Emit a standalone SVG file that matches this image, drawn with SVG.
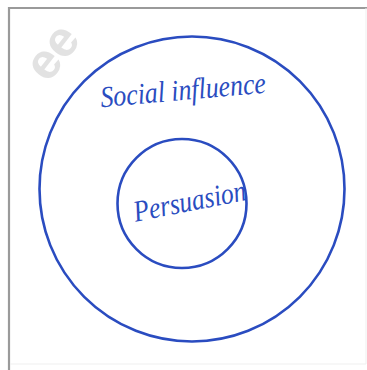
<svg xmlns="http://www.w3.org/2000/svg" width="367" height="370" viewBox="0 0 367 370">
<style>
.ring{fill:none;stroke:#2a4cc0;stroke-width:2.6}
.hand{font-family:"Liberation Serif",serif;font-style:italic;fill:#2a4cc0}
.wm{font-family:"Liberation Sans",sans-serif;font-weight:bold;fill:#e2e2e2}
</style>
<rect width="367" height="370" fill="#ffffff"/>
<text class="wm" font-size="50" transform="translate(48,84) rotate(-52)">ee</text>
<path d="M9 370 V8 H367" fill="none" stroke="#9a9a9a" stroke-width="2.2"/>
<path d="M10 364 H366 V8" fill="none" stroke="#efefef" stroke-width="1"/>
<g id="social-influence">
<circle class="ring" cx="192" cy="189" r="152.5"/>
<text class="hand" font-size="30" x="100" y="100" textLength="166" lengthAdjust="spacingAndGlyphs" transform="rotate(-5 183 90)">Social influence</text>
</g>
<g id="persuasion">
<circle class="ring" cx="182" cy="203.5" r="64.5"/>
<text class="hand" font-size="30" x="132" y="211" textLength="114" lengthAdjust="spacingAndGlyphs" transform="rotate(-11 189 198)">Persuasion</text>
</g>
</svg>
